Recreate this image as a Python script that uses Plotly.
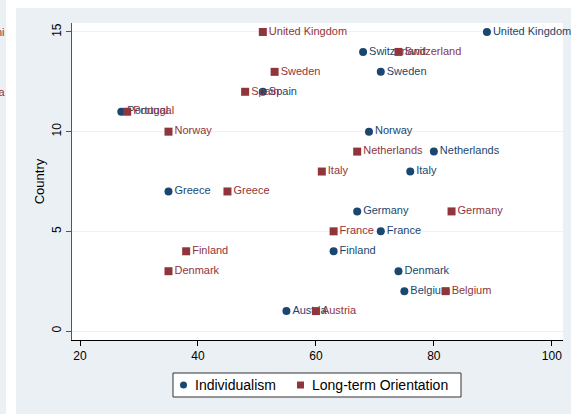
import plotly.graph_objects as go

countries = ["Austria", "Belgium", "Denmark", "Finland", "France", "Germany", "Greece",
             "Italy", "Netherlands", "Norway", "Portugal", "Spain", "Sweden",
             "Switzerland", "United Kingdom"]
country_index = list(range(1, 16))
individualism = [55, 75, 74, 63, 71, 67, 35, 76, 80, 69, 27, 51, 71, 68, 89]
long_term = [60, 82, 35, 38, 63, 83, 45, 61, 67, 35, 28, 48, 53, 74, 51]
series_names = ["Individualism", "Long-term Orientation"]

x_ticks = [20, 40, 60, 80, 100]
y_ticks = [0, 5, 10, 15]

NAVY = "#1a476f"
MAROON = "#90353b"
PANEL = "#EAF0F3"
FONT = "Liberation Sans, Arial, sans-serif"

fig = go.Figure()
fig.add_trace(go.Scatter(
    x=individualism, y=country_index, text=countries, name=series_names[0],
    mode="markers+text", textposition="middle right",
    marker=dict(symbol="circle", size=8, color=NAVY),
    textfont=dict(color=NAVY, size=11, family=FONT), cliponaxis=False))
fig.add_trace(go.Scatter(
    x=long_term, y=country_index, text=countries, name=series_names[1],
    mode="markers+text", textposition="middle right",
    marker=dict(symbol="square", size=8, color=MAROON),
    textfont=dict(color=MAROON, size=11, family=FONT), cliponaxis=False))

W, H = 571, 414
L, R, T, B = 72, 8, 23, 74
pw, ph = W - L - R, H - T - B

def px(xp):
    return (xp - L) / pw

def py(yp):
    return (H - B - yp) / ph

shapes = [
    # white strip between panels
    dict(type="rect", xref="paper", yref="paper", x0=px(6), x1=px(16), y0=py(420), y1=py(-5),
         fillcolor="white", line=dict(width=0), layer="below"),
    # white strip on top of right panel
    dict(type="rect", xref="paper", yref="paper", x0=px(6), x1=px(580), y0=py(8), y1=py(-5),
         fillcolor="white", line=dict(width=0), layer="below"),
    # legend box
    dict(type="rect", xref="paper", yref="paper", x0=px(173), x1=px(461), y0=py(397), y1=py(373),
         fillcolor="white", line=dict(width=1, color="#333333")),
    # legend key: circle
    dict(type="circle", xref="paper", yref="paper", x0=px(180), x1=px(187), y0=py(388.5), y1=py(381.5),
         fillcolor=NAVY, line=dict(width=0)),
    # legend key: square
    dict(type="rect", xref="paper", yref="paper", x0=px(297), x1=px(304), y0=py(388.5), y1=py(381.5),
         fillcolor=MAROON, line=dict(width=0)),
]

annotations = [
    dict(text="Uni", xref="paper", yref="paper", x=px(7), y=py(32), xanchor="right",
         yanchor="middle", showarrow=False, font=dict(color=MAROON, size=11, family=FONT)),
    dict(text="Spa", xref="paper", yref="paper", x=px(7), y=py(92), xanchor="right",
         yanchor="middle", showarrow=False, font=dict(color=MAROON, size=11, family=FONT)),
    dict(text=series_names[0], xref="paper", yref="paper", x=px(193), y=py(385), xanchor="left",
         yanchor="middle", showarrow=False, font=dict(color="black", size=14, family=FONT)),
    dict(text=series_names[1], xref="paper", yref="paper", x=px(310), y=py(385), xanchor="left",
         yanchor="middle", showarrow=False, font=dict(color="black", size=14, family=FONT)),
]

fig.update_layout(
    width=W, height=H,
    margin=dict(l=L, r=R, t=T, b=B, autoexpand=False),
    paper_bgcolor=PANEL, plot_bgcolor="white",
    font=dict(family=FONT, color="black", size=12),
    shapes=shapes, annotations=annotations,
    showlegend=False,
    xaxis=dict(range=[18.64, 101.9], tickvals=x_ticks, showgrid=False, zeroline=False,
               showline=True, linecolor="black", linewidth=1,
               ticks="outside", ticklen=5, tickcolor="black",
               tickfont=dict(size=12)),
    yaxis=dict(range=[-0.45, 15.45], tickvals=y_ticks, showgrid=True, gridcolor="#EAF2F3",
               gridwidth=1, zeroline=False, showline=True, linecolor="#555555", linewidth=1,
               ticks="outside", ticklen=5, tickcolor="#555555", tickangle=-90,
               tickfont=dict(size=12),
               title=dict(text="Country", font=dict(size=13), standoff=2)),
)

fig.write_html("out.html", config={"displayModeBar": False},
               post_script="document.body.style.margin='0';document.body.style.overflow='hidden';")
